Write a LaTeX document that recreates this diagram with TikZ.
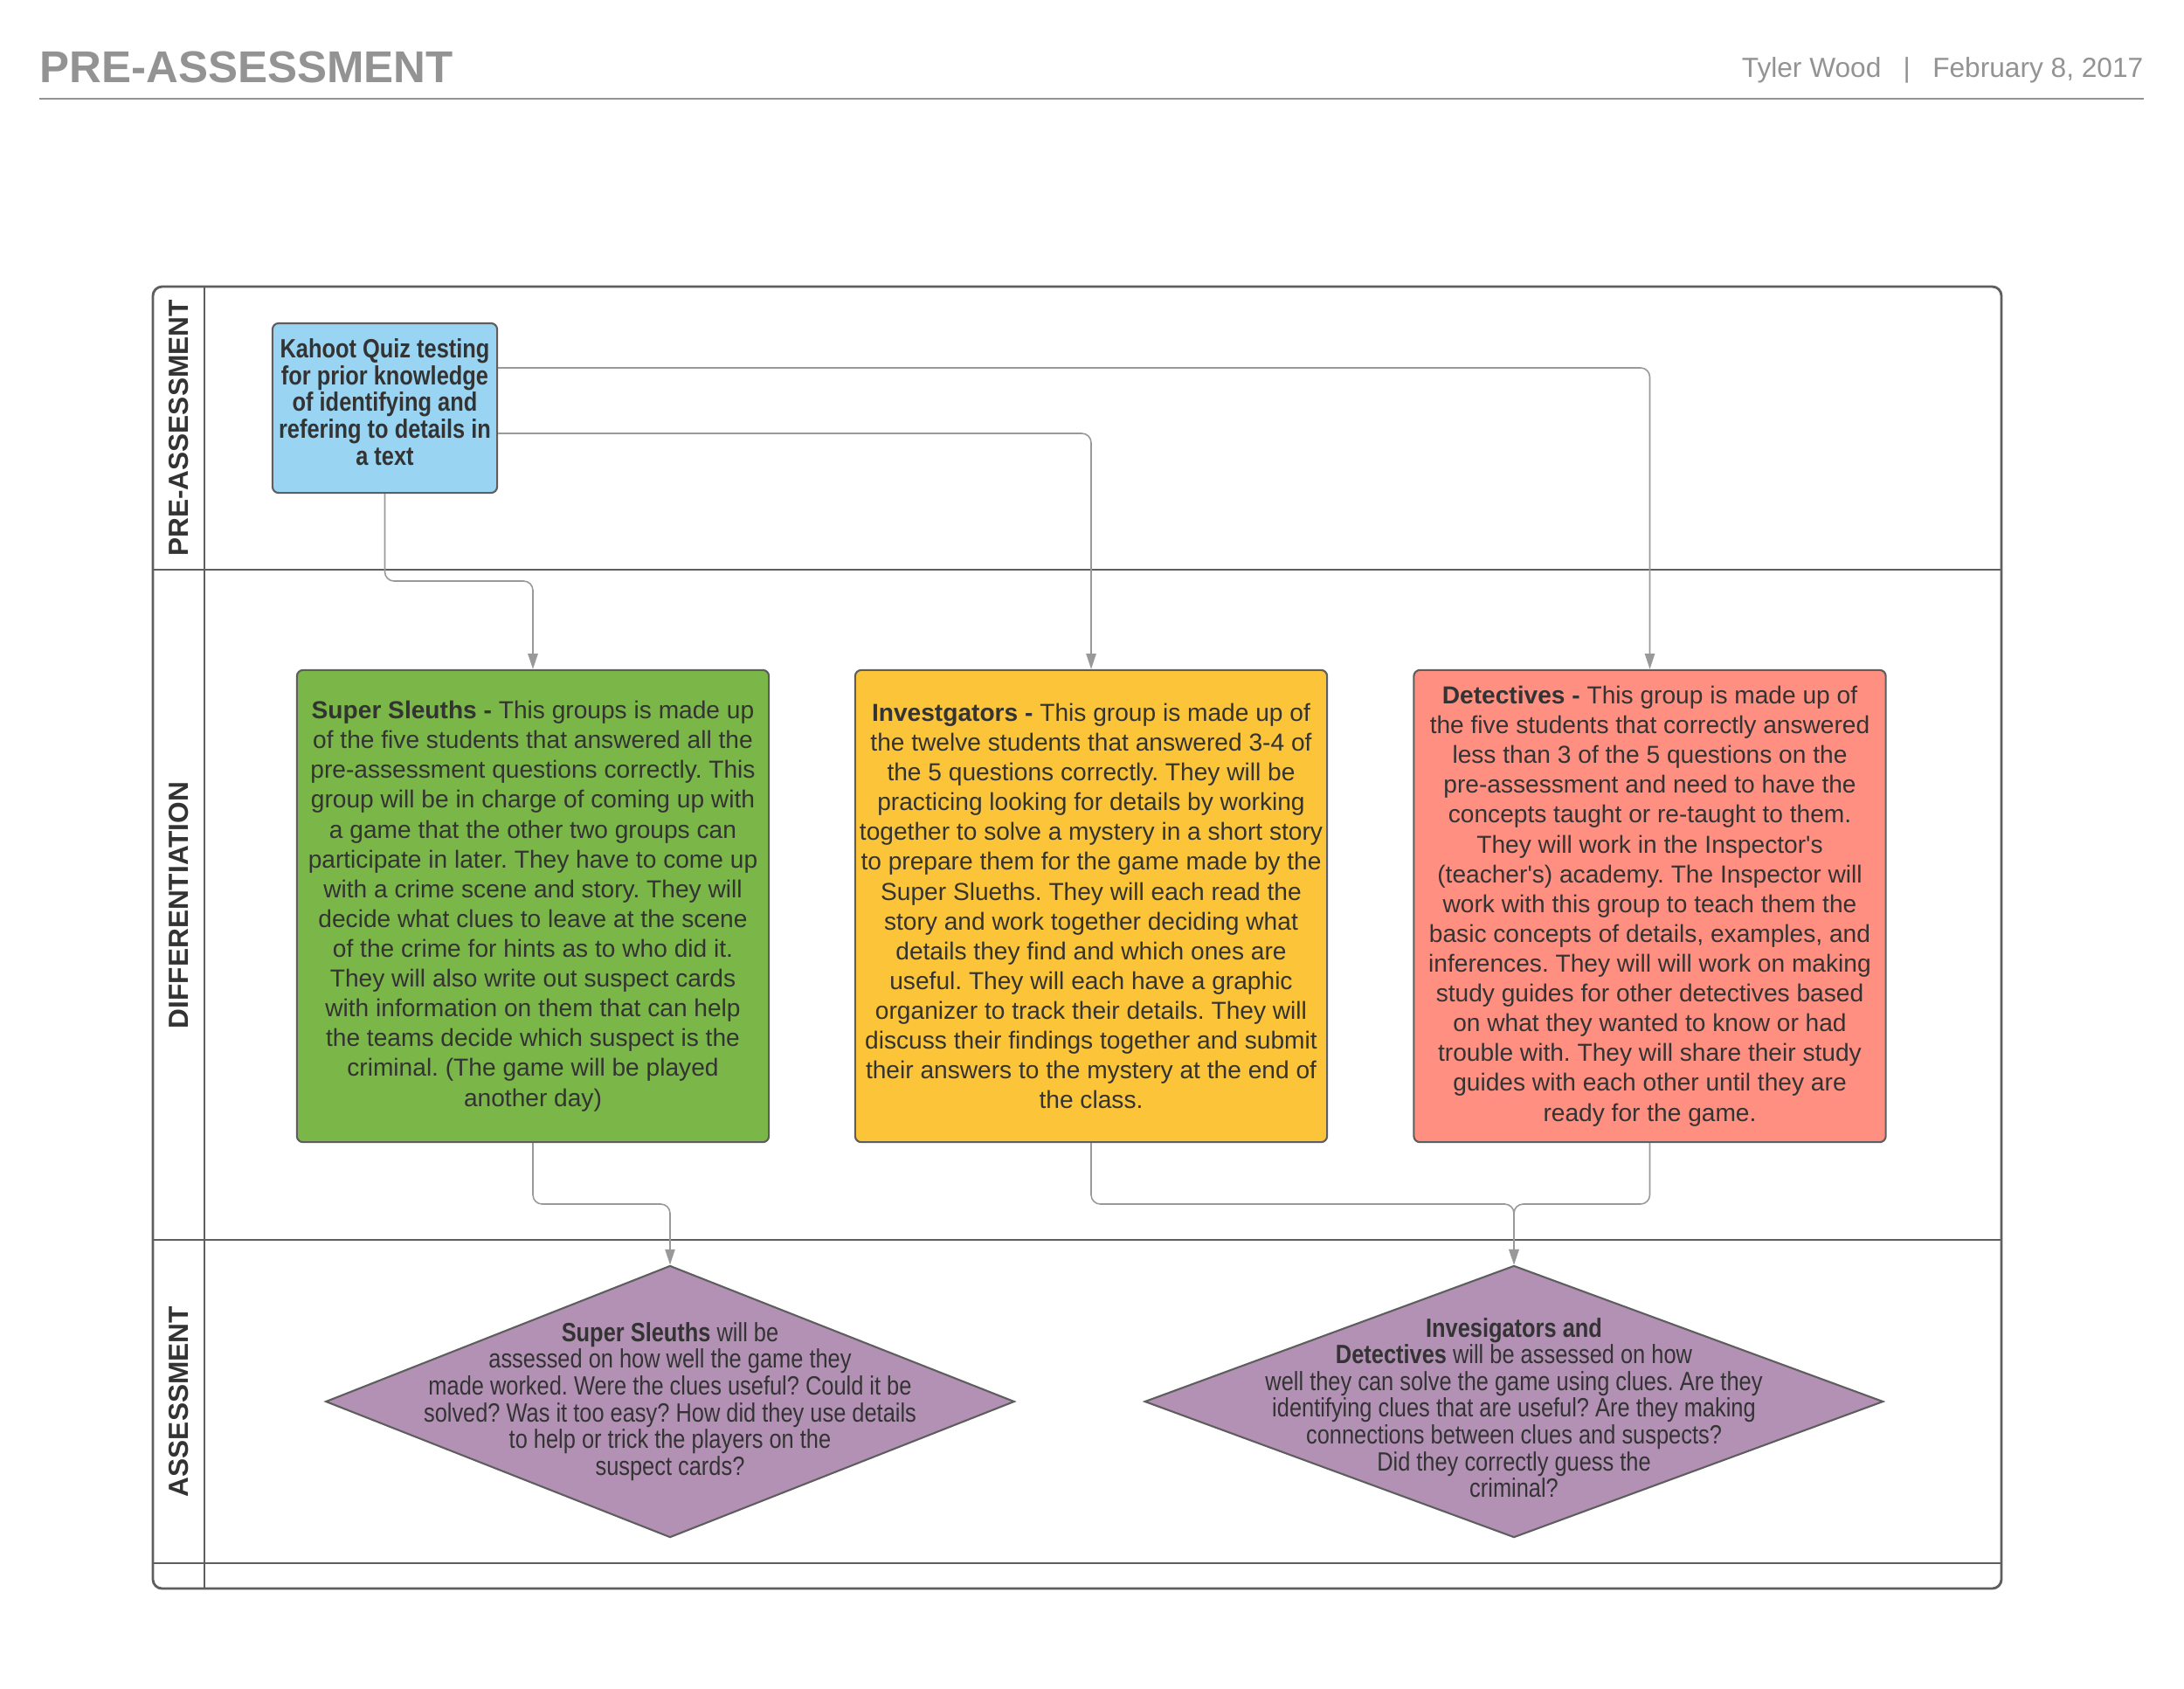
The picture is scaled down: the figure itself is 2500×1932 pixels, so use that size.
\documentclass[tikz,border=0pt]{standalone}
\usepackage{fontspec}
\setmainfont{Liberation Sans}[Ligatures=TeXOff]
\newfontfamily\narrowsans{Liberation Sans}[FakeStretch=0.84,Ligatures=TeXOff]
\usepackage{tikz}
\usetikzlibrary{arrows.meta,shapes.geometric}
\frenchspacing

\definecolor{lanegray}{HTML}{5E5E5E}
\definecolor{flowgray}{HTML}{999999}
\definecolor{inkgray}{HTML}{333333}
\definecolor{headgray}{HTML}{939393}
\definecolor{boxblue}{HTML}{99D5F3}
\definecolor{boxgreen}{HTML}{7AB648}
\definecolor{boxyellow}{HTML}{FCC438}
\definecolor{boxred}{HTML}{FF8F80}
\definecolor{boxpurple}{HTML}{B391B5}

\begin{document}
\begin{tikzpicture}[x=0.01cm, y=-0.01cm,
  every node/.style={font=\fontsize{8}{9.7}\selectfont, text=inkgray},
  lane/.style={draw=lanegray, line width=0.8pt},
  lanelabel/.style={rotate=90, font=\fontsize{9}{10}\selectfont\bfseries},
  groupbox/.style={draw=lanegray, line width=0.6pt, rounded corners=2pt,
                   minimum width=5.4cm, minimum height=5.4cm, inner sep=0pt, align=center},
  quizbox/.style={groupbox, fill=boxblue, minimum width=2.57cm, minimum height=1.94cm,
                  font=\narrowsans\fontsize{8.6}{8.7}\selectfont\bfseries},
  assessdiamond/.style={shape=diamond, draw=lanegray, fill=boxpurple, line width=0.6pt,
                        minimum height=3.11cm, inner sep=0pt},
  diatext/.style={align=center, font=\narrowsans\fontsize{8.6}{8.7}\selectfont},
  flow/.style={draw=flowgray, line width=0.45pt, rounded corners=3pt,
               -{Triangle[length=5pt, width=3.2pt]}}]
  \useasboundingbox (0,0) rectangle (2500,1932);

  % page header
  \node[anchor=base west, inner sep=0pt, font=\fontsize{14.5}{16}\selectfont\bfseries, text=headgray]
    (title) at (45,94) {PRE-ASSESSMENT};
  \node[anchor=base east, inner sep=0pt, font=\fontsize{9}{11}\selectfont, text=headgray]
    (byline) at (2454,88) {Tyler Wood\hspace{0.8em}|\hspace{0.8em}February 8, 2017};
  \draw[headgray, line width=0.7pt] (45,113) -- (2454,113);

  % swimlanes
  \draw[lane, rounded corners=3pt] (175,328) rectangle (2291,1818);
  \draw[lane] (234,328) -- (234,1818);
  \draw[lane] (175,652) -- (2291,652);
  \draw[lane] (175,1419) -- (2291,1419);
  \draw[lane] (175,1789) -- (2291,1789);
  \node[lanelabel] (lanepre)    at (205,490)  {PRE-ASSESSMENT};
  \node[lanelabel] (lanediff)   at (205,1036) {DIFFERENTIATION};
  \node[lanelabel] (laneassess) at (205,1604) {ASSESSMENT};

  % pre-assessment
  \node[quizbox] (quiz) at (440.5,467) {};
  \node[align=center, font=\narrowsans\fontsize{8.6}{8.7}\selectfont\bfseries]
    (quiztxt) at ([yshift=0.07cm]quiz.center)
    {Kahoot Quiz testing\\for prior knowledge\\of identifying and\\refering to details in\\a text};

  % differentiation groups
  \node[groupbox, fill=boxgreen] (sleuths) at (610,1037)
    {\textbf{Super Sleuths -} This groups is made up\\
     of the five students that answered all the\\
     pre-assessment questions correctly. This\\
     group will be in charge of coming up with\\
     a game that the other two groups can\\
     participate in later. They have to come up\\
     with a crime scene and story. They will\\
     decide what clues to leave at the scene\\
     of the crime for hints as to who did it.\\
     They will also write out suspect cards\\
     with information on them that can help\\
     the teams decide which suspect is the\\
     criminal. (The game will be played\\
     another day)};
  \node[groupbox, fill=boxyellow] (invest) at (1249,1037)
    {\textbf{Investgators -} This group is made up of\\
     the twelve students that answered 3-4 of\\
     the 5 questions correctly. They will be\\
     practicing looking for details by working\\
     together to solve a mystery in a short story\\
     to prepare them for the game made by the\\
     Super Slueths. They will each read the\\
     story and work together deciding what\\
     details they find and which ones are\\
     useful. They will each have a graphic\\
     organizer to track their details. They will\\
     discuss their findings together and submit\\
     their answers to the mystery at the end of\\
     the class.};
  \node[groupbox, fill=boxred] (detect) at (1888.5,1037)
    {\textbf{Detectives -} This group is made up of\\
     the five students that correctly answered\\
     less than 3 of the 5 questions on the\\
     pre-assessment and need to have the\\
     concepts taught or re-taught to them.\\
     They will work in the Inspector's\\
     (teacher's) academy. The Inspector will\\
     work with this group to teach them the\\
     basic concepts of details, examples, and\\
     inferences. They will will work on making\\
     study guides for other detectives based\\
     on what they wanted to know or had\\
     trouble with. They will share their study\\
     guides with each other until they are\\
     ready for the game.};

  % assessment
  \node[assessdiamond, minimum width=7.88cm] (sleuthsdia) at (767,1604) {};
  \node[diatext] (sleuthstxt) at (sleuthsdia.center)
    {\textbf{Super Sleuths} will be\\
     assessed on how well the game they\\
     made worked. Were the clues useful? Could it be\\
     solved? Was it too easy? How did they use details\\
     to help or trick the players on the\\
     suspect cards?};
  \node[assessdiamond, minimum width=8.45cm] (bothdia) at (1733,1604) {};
  \node[diatext] (bothtxt) at ([yshift=-0.07cm]bothdia.center)
    {\textbf{Invesigators and}\\
     \textbf{Detectives} will be assessed on how\\
     well they can solve the game using clues. Are they\\
     identifying clues that are useful? Are they making\\
     connections between clues and suspects?\\
     Did they correctly guess the\\
     criminal?};

  % connectors
  \draw[flow] (quiz.south) -- (quiz.south |- 0,665) -| (sleuths.north);
  \draw[flow] ([yshift=-0.29cm]quiz.east) -| (invest.north);
  \draw[flow] ([yshift=0.46cm]quiz.east) -| (detect.north);
  \draw[flow] (sleuths.south) -- (sleuths.south |- 0,1378) -| (sleuthsdia.north);
  \draw[flow] (invest.south) -- (invest.south |- 0,1378) -| (bothdia.north);
  \draw[flow] (detect.south) -- (detect.south |- 0,1378) -| (bothdia.north);
\end{tikzpicture}
\end{document}
